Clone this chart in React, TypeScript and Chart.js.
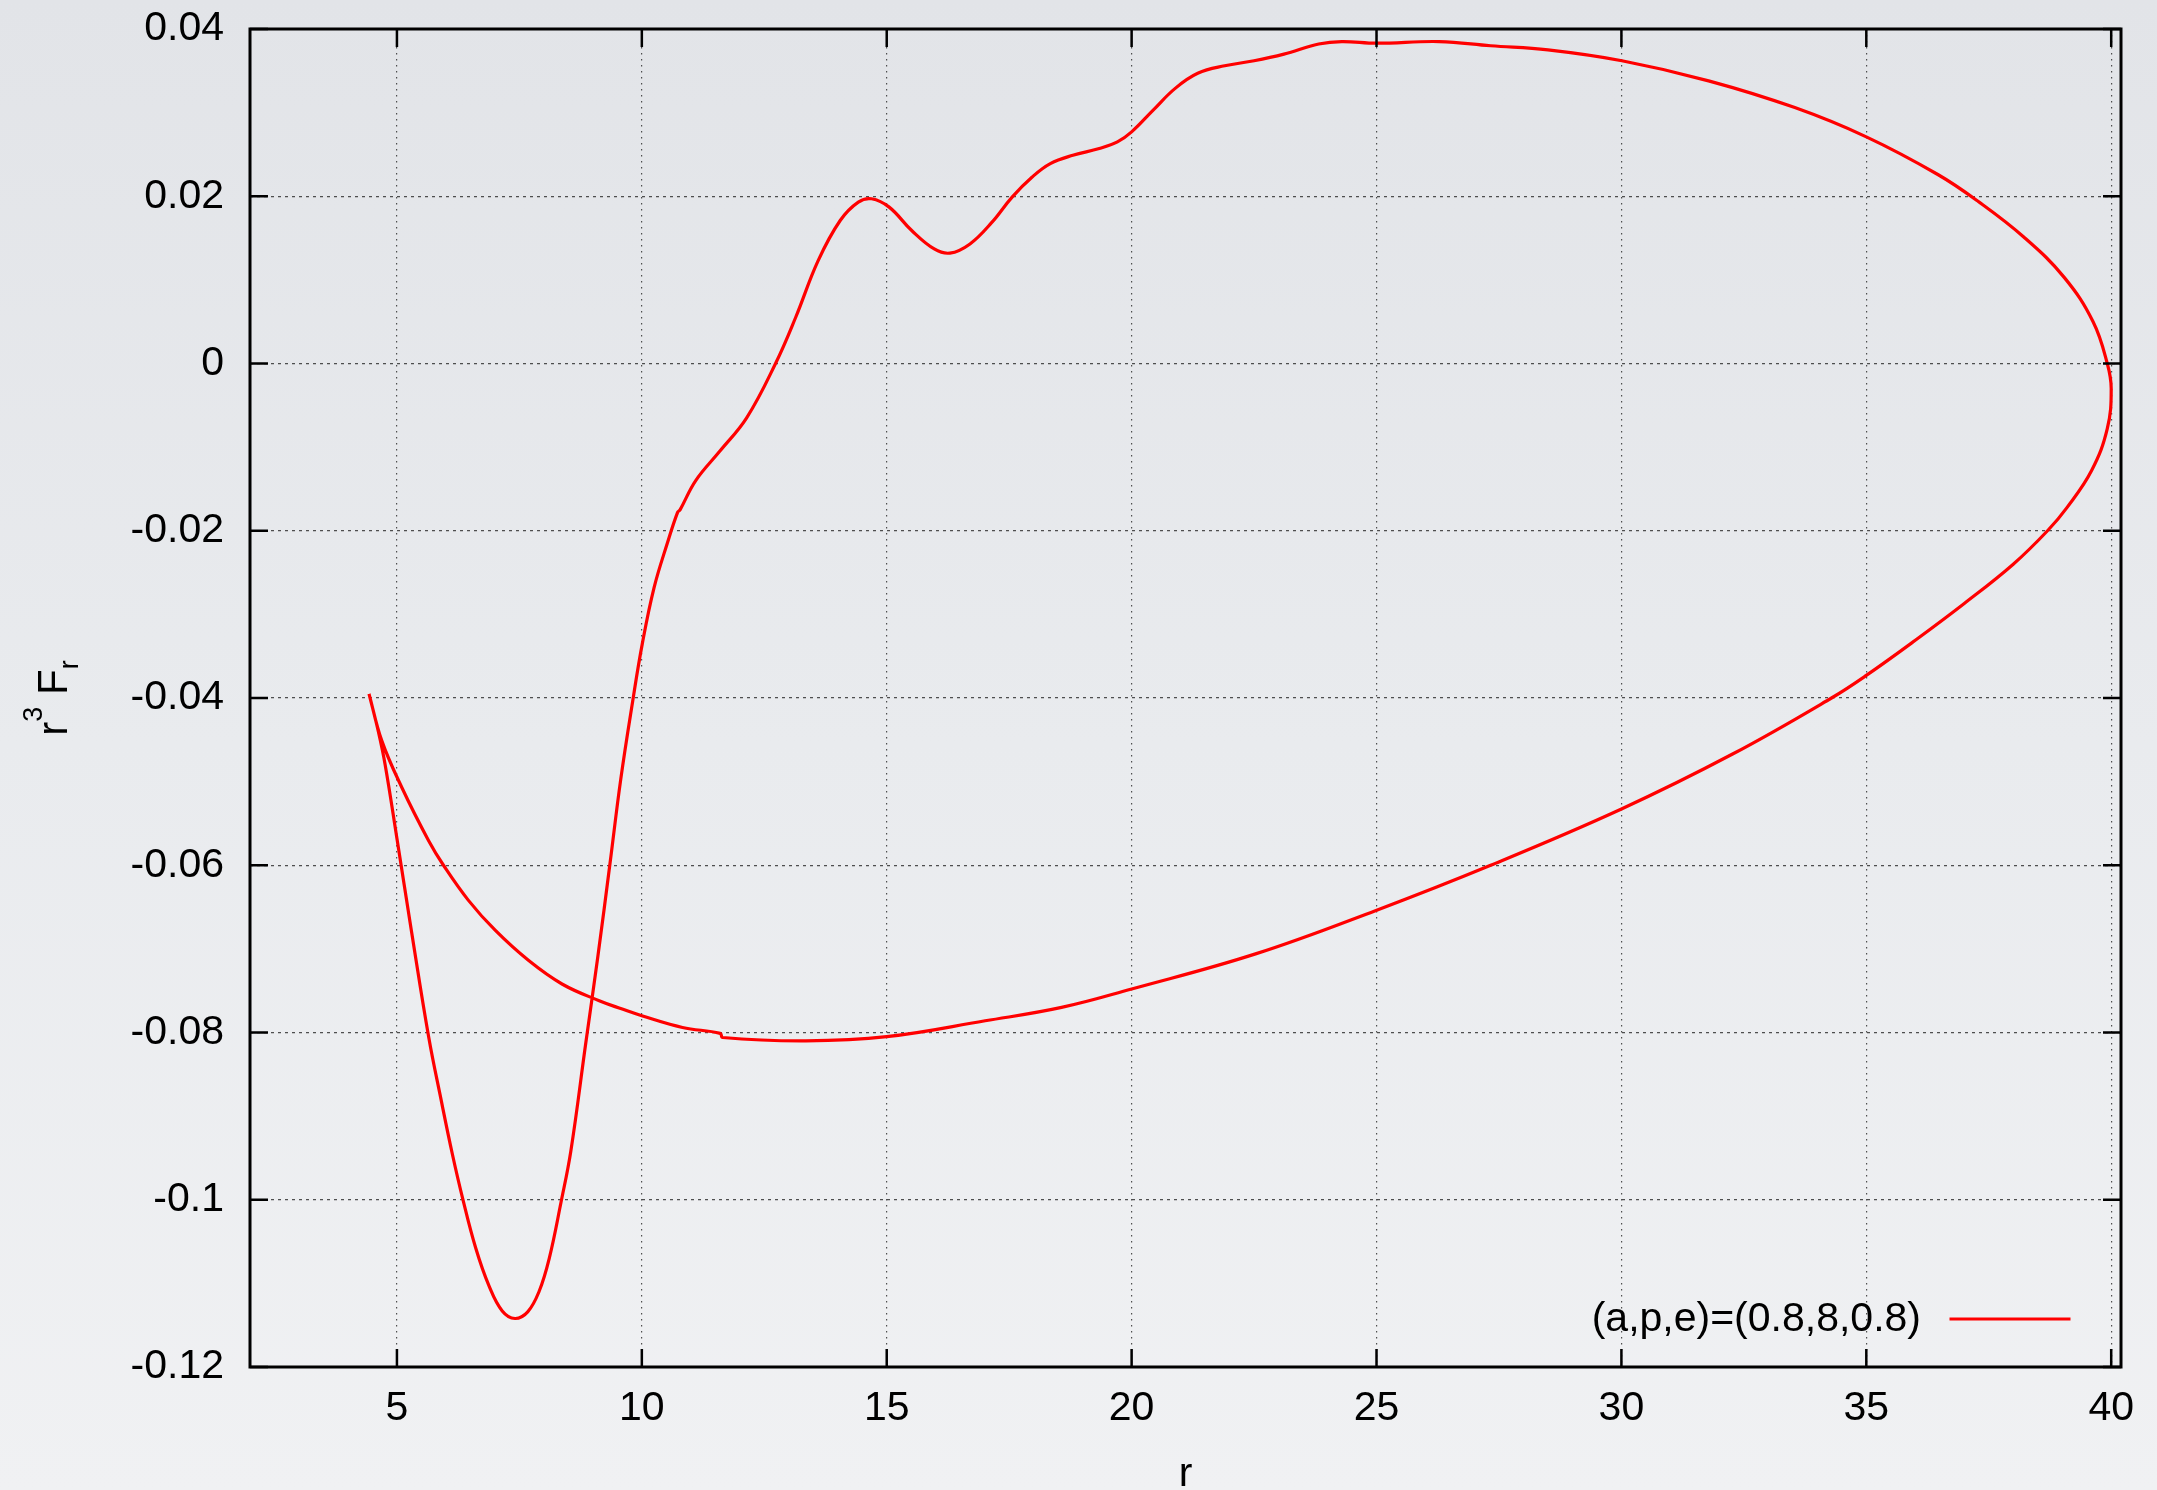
import React, { useEffect, useRef } from "react";
import { Chart, registerables } from "chart.js";

Chart.register(...registerables);

// ---- data (path order along the orbit) ----
const rValues = [
  4.43, 4.62, 4.76, 5.0, 5.3, 5.65, 5.9, 6.13, 6.34, 6.61, 6.88, 7.15, 7.41, 7.67, 7.9, 8.11, 8.35, 8.55, 8.85,
  9.1, 9.35, 9.57, 9.81, 10.01, 10.25, 10.52, 10.73, 10.78, 11.1, 11.59, 12.14, 12.73, 13.14, 13.6, 14.05, 14.42, 14.69,
  15.05, 15.51, 15.97, 16.29, 16.7, 17.15, 17.56, 17.97, 18.34, 18.8, 19.34, 19.71, 20.0, 20.44, 20.89, 21.35, 21.9,
  22.5, 23.11, 23.82, 24.29, 25.0, 26.28, 27.33, 28.5, 30.01, 31.78, 33.54, 35.0, 36.46, 37.28, 38.22, 39.04, 39.63,
  39.92, 40.0, 39.92, 39.6, 39.1, 38.7, 38.0, 37.0, 36.0, 35.0, 34.29, 32.27, 29.99, 27.33, 24.99, 22.53, 20.0,
  18.57, 17.01, 15.0, 13.35, 11.65, 11.6, 10.83, 10.0, 9.6, 9.13, 8.37, 7.69, 7.01, 6.46, 5.95, 5.65, 5.1, 4.69, 4.43,
];
const fValues = [
  -0.0395, -0.044, -0.048, -0.0568, -0.068, -0.0806, -0.088, -0.0945, -0.0998, -0.1058, -0.1103, -0.1133, -0.1142,
  -0.1134, -0.111, -0.107, -0.1003, -0.0942, -0.0815, -0.071, -0.0598, -0.0497, -0.0405, -0.0335, -0.0268, -0.0215,
  -0.0178, -0.0175, -0.014, -0.0105, -0.0065, 0.0, 0.0055, 0.0123, 0.0171, 0.0193, 0.0197, 0.0187, 0.0159, 0.0137,
  0.0132, 0.0143, 0.0169, 0.0199, 0.0223, 0.0239, 0.0249, 0.0257, 0.0265, 0.0277, 0.0303, 0.0329, 0.0347, 0.0356,
  0.0362, 0.037, 0.0382, 0.0385, 0.0383, 0.0385, 0.038, 0.0375, 0.0362, 0.0338, 0.0306, 0.0271, 0.0226, 0.0194,
  0.0151, 0.0103, 0.005, 0.0, -0.003, -0.0078, -0.0128, -0.0172, -0.02, -0.024, -0.0287, -0.0331, -0.0373, -0.04,
  -0.0467, -0.0533, -0.06, -0.0654, -0.0706, -0.0748, -0.077, -0.0786, -0.0805, -0.081, -0.0806, -0.0801, -0.0794,
  -0.078, -0.0772, -0.0762, -0.0742, -0.0714, -0.0678, -0.0642, -0.06, -0.0571, -0.0507, -0.0451, -0.0395,
];
const xTicks = [5, 10, 15, 20, 25, 30, 35, 40];
const yTicks = [0.04, 0.02, 0, -0.02, -0.04, -0.06, -0.08, -0.1, -0.12];
const seriesLabel = "(a,p,e)=(0.8,8,0.8)";
const xTitle = "r";
const yTitleMain1 = "r";
const yTitleSup = "3";
const yTitleMain2 = " F";
const yTitleSub = "r";

const W = 2157;
const H = 1490;
const FONT = '"Liberation Sans", Arial, Helvetica, sans-serif';

const fmt = (v: number) => String(Number(v.toFixed(4)));

const framePlugin = {
  id: "gnuplotFrame",
  afterDatasetsDraw(chart: any) {
    const { ctx, chartArea: a } = chart;
    const xs = chart.scales.x;
    const ys = chart.scales.y;
    const tl = 18;
    ctx.save();
    ctx.strokeStyle = "#000";
    ctx.lineWidth = 2.5;
    ctx.beginPath();
    xTicks.forEach((v) => {
      const px = xs.getPixelForValue(v);
      ctx.moveTo(px, a.bottom);
      ctx.lineTo(px, a.bottom - tl);
      ctx.moveTo(px, a.top);
      ctx.lineTo(px, a.top + tl);
    });
    yTicks.forEach((v) => {
      const py = ys.getPixelForValue(v);
      ctx.moveTo(a.left, py);
      ctx.lineTo(a.left + tl, py);
      ctx.moveTo(a.right, py);
      ctx.lineTo(a.right - tl, py);
    });
    ctx.stroke();
    ctx.lineWidth = 3;
    ctx.strokeRect(a.left, a.top, a.right - a.left, a.bottom - a.top);

    // legend (inside, bottom right)
    const ds = chart.data.datasets[0];
    ctx.font = `41px ${FONT}`;
    ctx.fillStyle = "#000";
    ctx.textAlign = "right";
    ctx.textBaseline = "middle";
    const ly = a.bottom - 48;
    ctx.fillText(ds.label, a.right - 200, ly + 1);
    ctx.strokeStyle = ds.borderColor;
    ctx.lineWidth = 3.2;
    ctx.beginPath();
    ctx.moveTo(a.right - 171.5, ly);
    ctx.lineTo(a.right - 50.5, ly);
    ctx.stroke();

    // y-axis title with superscript / subscript
    const cy = (a.top + a.bottom) / 2;
    ctx.translate(67, cy);
    ctx.rotate(-Math.PI / 2);
    ctx.textAlign = "left";
    ctx.textBaseline = "alphabetic";
    const big = `42px ${FONT}`;
    const small = `27px ${FONT}`;
    ctx.font = big;
    const w1 = ctx.measureText(yTitleMain1).width;
    const w3 = ctx.measureText(yTitleMain2).width;
    ctx.font = small;
    const w2 = ctx.measureText(yTitleSup).width;
    const w4 = ctx.measureText(yTitleSub).width;
    const total = w1 + w2 + w3 + w4;
    let x0 = -total / 2;
    ctx.font = big;
    ctx.fillText(yTitleMain1, x0, 0);
    x0 += w1;
    ctx.font = small;
    ctx.fillText(yTitleSup, x0, -25);
    x0 += w2;
    ctx.font = big;
    ctx.fillText(yTitleMain2, x0, 0);
    x0 += w3;
    ctx.font = small;
    ctx.fillText(yTitleSub, x0, 11);
    ctx.restore();
  },
};

export default function App() {
  const ref = useRef<HTMLCanvasElement | null>(null);

  useEffect(() => {
    if (!ref.current) return;
    const data = rValues.map((r, i) => ({ x: r, y: fValues[i] }));
    const tickFont = { family: FONT, size: 41 };
    const chart = new Chart(ref.current, {
      type: "scatter",
      data: {
        datasets: [
          {
            label: seriesLabel,
            data,
            showLine: true,
            borderColor: "#ff0000",
            backgroundColor: "#ff0000",
            borderWidth: 3.2,
            pointRadius: 0,
            tension: 0.4,
          },
        ],
      },
      options: {
        animation: false,
        responsive: false,
        devicePixelRatio: 1,
        layout: { padding: { top: 29, right: 36, left: 0, bottom: 0 } },
        plugins: { legend: { display: false }, tooltip: { enabled: false } },
        scales: {
          x: {
            type: "linear",
            position: "bottom",
            min: 2,
            max: 40.2,
            afterBuildTicks: (s: any) => {
              s.ticks = xTicks.map((v) => ({ value: v }));
            },
            afterFit: (s: any) => {
              s.height = 123;
              s.paddingLeft = 0;
              s.paddingRight = 0;
            },
            ticks: {
              color: "#000",
              font: tickFont,
              padding: 17,
              maxRotation: 0,
              autoSkip: false,
              callback: (v: any) => fmt(Number(v)),
            },
            grid: { color: "rgba(50,50,50,0.85)", lineWidth: 1.2, drawTicks: false, tickLength: 0 },
            border: { display: false, dash: [1.5, 4.5] },
            title: {
              display: true,
              text: xTitle,
              color: "#000",
              font: { family: FONT, size: 41 },
              padding: { top: 0, bottom: -9 },
            },
          },
          y: {
            type: "linear",
            position: "left",
            min: -0.12,
            max: 0.04,
            afterBuildTicks: (s: any) => {
              s.ticks = yTicks.map((v) => ({ value: v }));
            },
            afterFit: (s: any) => {
              s.width = 250;
              s.paddingTop = 0;
              s.paddingBottom = 0;
            },
            ticks: {
              color: "#000",
              font: tickFont,
              padding: 26,
              autoSkip: false,
              callback: (v: any) => fmt(Number(v)),
            },
            grid: { color: "rgba(50,50,50,0.85)", lineWidth: 1.2, drawTicks: false, tickLength: 0 },
            border: { display: false, dash: [3, 4] },
          },
        },
      },
      plugins: [framePlugin],
    });
    return () => chart.destroy();
  }, []);

  return (
    <div
      style={{
        position: "fixed",
        left: 0,
        top: 0,
        width: W,
        height: H,
        background: "linear-gradient(to bottom, #e2e4e8 0%, #e9ebee 50%, #f0f1f3 100%)",
      }}
    >
      <canvas ref={ref} width={W} height={H} style={{ width: W, height: H, display: "block" }} />
    </div>
  );
}
